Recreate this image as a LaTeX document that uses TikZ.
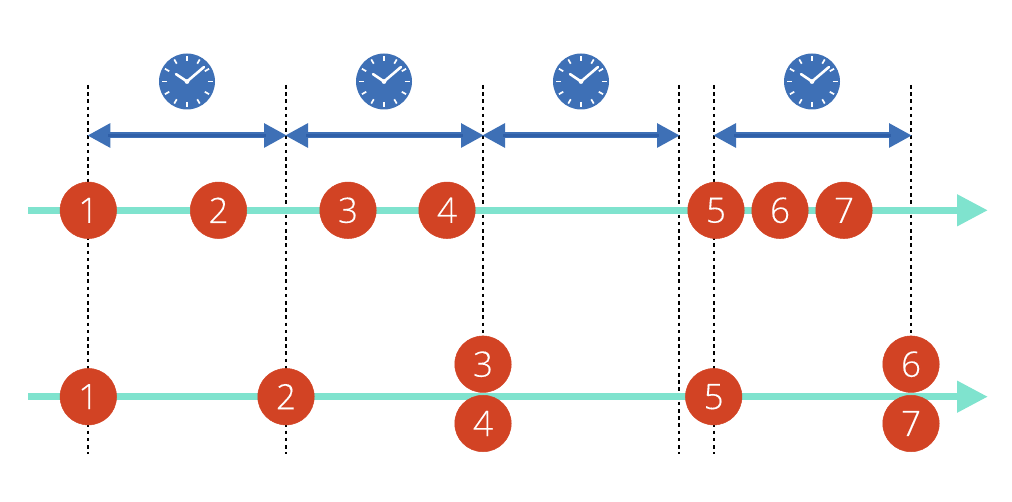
\documentclass[tikz,border=0pt]{standalone}
\usepackage{fontspec}
\setmainfont{Open Sans Light}[Scale=1,FakeBold=0.25]
\usetikzlibrary{arrows.meta}
\definecolor{teal1}{HTML}{7FE3CE}
\definecolor{red1}{HTML}{D24324}
\definecolor{blue1}{HTML}{3E70B6}
\definecolor{blue2}{HTML}{2F5FA8}
\tikzset{
  x=1pt,y=-1pt,
  numdisc/.style={circle,fill=red1,draw=red1,line width=0.5pt,minimum size=56.5pt,inner sep=0pt,text=white,font=\fontsize{35}{35}\selectfont},
  timeline/.style={teal1,line width=7.5pt,-{Triangle[length=31pt,width=30pt]},shorten >=0pt},
  guideline/.style={black,line width=1.7pt,dash pattern=on 3.6pt off 3.6pt},
  spanline/.style={blue1,line width=6pt,shorten <=-1pt,shorten >=-1pt,{Triangle[length=23pt,width=23pt]}-{Triangle[length=23pt,width=23pt]}},
  spancore/.style={blue2,line width=2.2pt,shorten <=20pt,shorten >=20pt},
  clockface/.style={circle,fill=blue1,minimum size=56pt,inner sep=0pt},
  ticklet/.style={white,line width=1.7pt},
  clockhand/.style={white,line width=2.6pt,line cap=round}
}
\newcommand{\clockat}[2]{%
  \node[clockface] (#2) at (#1,81.5) {};
  \foreach \a in {0,30,...,330}
    \draw[ticklet] (#2.center) ++(\a:20.5) -- ++(\a:5);
  \draw[clockhand] (#2.center) -- ++(-11,-7.4);
  \draw[clockhand] (#2.center) -- ++(17,-14.5);
  \fill[white] (#2.center) circle (2.4pt);
}
\begin{document}
\begin{tikzpicture}
\useasboundingbox (0,0) rectangle (1012,502);
% guide coordinates
\foreach \n/\x/\b in {a/88.3/453.5,b/286/453.5,c/483/340,d/679/453.5,e/714/453.5,f/911/336}{
  \coordinate (\n t) at (\x,85);
  \coordinate (\n m) at (\x,135.5);
  \coordinate (\n b) at (\x,\b);
}
\coordinate (l1s) at (28,210.3); \coordinate (l1e) at (988,210.3);
\coordinate (l2s) at (28,396.7); \coordinate (l2e) at (988,396.7);
% dashed guides
\foreach \n in {a,b,c,d,e,f}
  \draw[guideline] (\n t) -- (\n b);
% timelines
\draw[timeline] (l1s) -- (l1e);
\draw[timeline] (l2s) -- (l2e);
% spans
\foreach \p/\q in {a/b,b/c,c/d,e/f}{
  \draw[spanline] (\p m) -- (\q m);
  \draw[spancore] (\p m) -- (\q m);
}
% clocks
\clockat{187}{ck1}
\clockat{384}{ck2}
\clockat{581}{ck3}
\clockat{812}{ck4}
% top row
\node[numdisc] (t1) at (88.3,210.3) {1};
\node[numdisc] (t2) at (218.5,210.3) {2};
\node[numdisc] (t3) at (348,210.3) {3};
\node[numdisc] (t4) at (447,210.3) {4};
\node[numdisc] (t5) at (716,210.3) {5};
\node[numdisc] (t6) at (780,210.3) {6};
\node[numdisc] (t7) at (844,210.3) {7};
% bottom row
\node[numdisc] (u1) at (88.3,396.7) {1};
\node[numdisc] (u2) at (286,396.7) {2};
\node[numdisc] (u3) at (483,364.2) {3};
\node[numdisc] (u4) at (483,423.5) {4};
\node[numdisc] (u5) at (713.7,396.7) {5};
\node[numdisc] (u6) at (911,364.2) {6};
\node[numdisc] (u7) at (911,423.5) {7};
\end{tikzpicture}
\end{document}
